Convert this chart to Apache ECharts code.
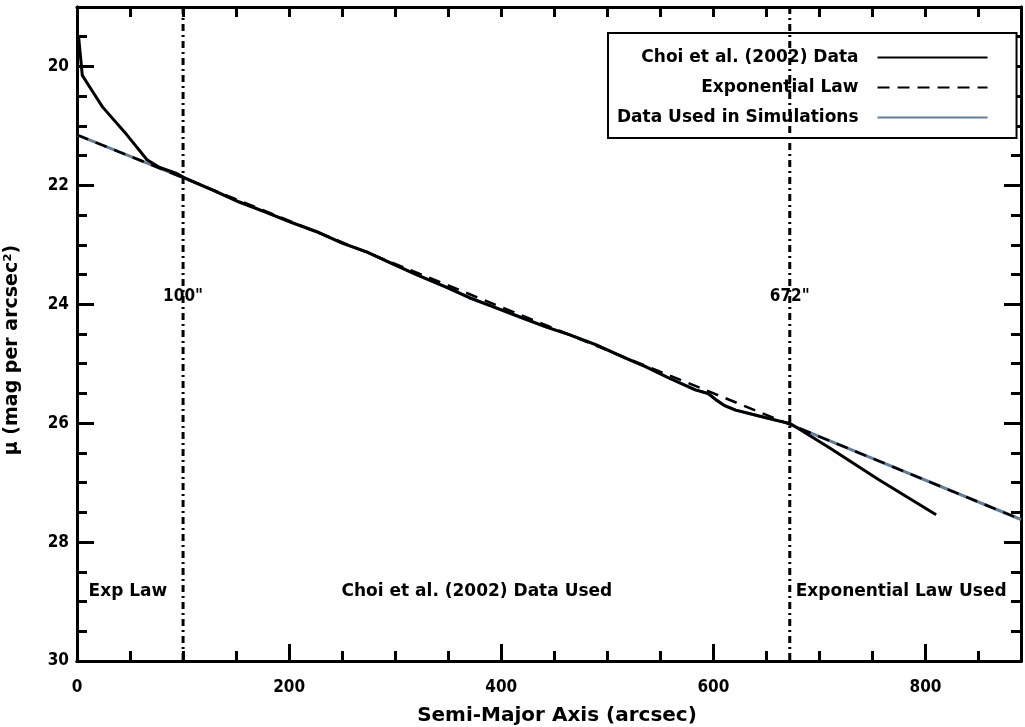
<!DOCTYPE html>
<html>
<head>
<meta charset="utf-8">
<script src="https://cdn.jsdelivr.net/npm/echarts@6/dist/echarts.min.js"></script>
<style>
html,body{margin:0;padding:0;background:#fff;}
#chart{width:1025px;height:727px;}
</style>
</head>
<body>
<div id="chart"></div>
<script>
// ---- data ----
var choiX = [1.5, 5, 15, 24, 47, 66, 78, 94, 101, 128, 153, 179, 200, 226, 250, 273, 295, 320, 348, 370, 392, 417, 442, 464, 489, 514, 536, 558, 583, 595, 602, 610, 621, 643, 668, 672, 709, 756, 810];
var choiY = [19.5, 20.15, 20.43, 20.68, 21.15, 21.57, 21.7, 21.8, 21.87, 22.08, 22.28, 22.46, 22.61, 22.78, 22.97, 23.12, 23.30, 23.50, 23.71, 23.89, 24.04, 24.21, 24.38, 24.51, 24.68, 24.88, 25.05, 25.24, 25.44, 25.50, 25.60, 25.70, 25.78, 25.88, 25.99, 26.0, 26.41, 26.95, 27.54];

var expX = [0, 100, 672, 890];
var expY = [21.15, 21.87, 26.02, 27.62];

var usedX = [0, 100, 128, 153, 179, 200, 226, 250, 273, 295, 320, 348, 370, 392, 417, 442, 464, 489, 514, 536, 558, 583, 595, 602, 610, 621, 643, 668, 672, 890];
var usedY = [21.15, 21.87, 22.08, 22.28, 22.46, 22.61, 22.78, 22.97, 23.12, 23.30, 23.50, 23.71, 23.89, 24.04, 24.21, 24.38, 24.51, 24.68, 24.88, 25.05, 25.24, 25.44, 25.50, 25.60, 25.70, 25.78, 25.88, 25.99, 26.02, 27.62];

var boundaryX = [100, 672];
var boundaryLabels = ['100"', '672"'];
var boundaryLabelY = 23.87;

var regionNames = ['Exp Law', 'Choi et al. (2002) Data Used', 'Exponential Law Used'];
var regionX = [48, 377, 777];
var regionY = 28.83;

var xMajorTicks = [0, 200, 400, 600, 800];
var xMinorTicks = [0, 50, 100, 150, 200, 250, 300, 350, 400, 450, 500, 550, 600, 650, 700, 750, 800, 850];
var yMajorTicks = [20, 22, 24, 26, 28, 30];
var yMinorTicks = [19.5, 20, 20.5, 21, 21.5, 22, 22.5, 23, 23.5, 24, 24.5, 25, 25.5, 26, 26.5, 27, 27.5, 28, 28.5, 29, 29.5];

var seriesNames = ['Choi et al. (2002) Data', 'Exponential Law', 'Data Used in Simulations'];
// ---------------------------------------

function pairs(xs, ys) { return xs.map(function (x, i) { return [x, ys[i]]; }); }

var FONTC = '"DejaVu Sans Condensed", "DejaVu Sans", sans-serif';
var FONT = '"DejaVu Sans", sans-serif';
var XMIN = 0, XMAX = 890, YMIN = 19, YMAX = 30;
var lineW = 3;

function xAx(pos, ticks, len, labels) {
  return {
    type: 'value', position: pos, min: XMIN, max: XMAX,
    axisLine: { show: true, onZero: false, lineStyle: { color: '#000', width: lineW } },
    axisTick: { show: true, inside: true, length: len, customValues: ticks, lineStyle: { color: '#000', width: lineW } },
    axisLabel: labels ? { show: true, customValues: labels, color: '#000', fontFamily: FONTC, fontSize: 17, fontWeight: 'bold', margin: 18 } : { show: false },
    splitLine: { show: false }
  };
}
function yAx(pos, ticks, len, labels) {
  return {
    type: 'value', position: pos, min: YMIN, max: YMAX, inverse: true,
    axisLine: { show: true, onZero: false, lineStyle: { color: '#000', width: lineW } },
    axisTick: { show: true, inside: true, length: len, customValues: ticks, lineStyle: { color: '#000', width: lineW } },
    axisLabel: labels ? { show: true, customValues: labels, color: '#000', fontFamily: FONTC, fontSize: 17, fontWeight: 'bold', margin: 8 } : { show: false },
    splitLine: { show: false }
  };
}

var xAxes = [xAx('bottom', xMajorTicks, 17, xMajorTicks), xAx('bottom', xMinorTicks, 10, null), xAx('top', xMinorTicks, 10, null)];
xAxes[0].name = 'Semi-Major Axis (arcsec)';
xAxes[0].nameLocation = 'middle';
xAxes[0].nameGap = 45;
xAxes[0].nameTextStyle = { color: '#000', fontFamily: FONT, fontSize: 20, fontWeight: 'bold', padding: [0, 0, 0, 16] };

var yAxes = [yAx('left', yMajorTicks, 17, yMajorTicks), yAx('left', yMinorTicks, 10, null), yAx('right', yMajorTicks, 17, null), yAx('right', yMinorTicks, 10, null)];
yAxes[0].name = 'μ (mag per arcsec²)';
yAxes[0].nameLocation = 'middle';
yAxes[0].nameGap = 55;
yAxes[0].nameRotate = 90;
yAxes[0].nameTextStyle = { color: '#000', fontFamily: FONT, fontSize: 19, fontWeight: 'bold', padding: [0, 32, 0, 0] };

var series = [
  {
    name: seriesNames[2], type: 'line', data: pairs(usedX, usedY), symbol: 'none', showSymbol: false,
    lineStyle: { color: '#5f7f9f', width: 3 }, itemStyle: { color: '#5f7f9f' }, z: 2, silent: true, animation: false
  },
  {
    name: seriesNames[1], type: 'line', data: pairs(expX, expY), symbol: 'none', showSymbol: false,
    lineStyle: { color: '#000', width: 2.5, type: [12, 8] }, itemStyle: { color: '#000' }, z: 3, silent: true, animation: false
  },
  {
    name: seriesNames[0], type: 'line', data: pairs(choiX, choiY), symbol: 'none', showSymbol: false,
    lineStyle: { color: '#000', width: 3 }, itemStyle: { color: '#000' }, z: 4, silent: true, animation: false
  }
];
boundaryX.forEach(function (b, i) {
  series.push({
    name: 'boundary' + i, type: 'line', data: [[b, YMIN], [b, YMAX]], symbol: 'none',
    lineStyle: { color: '#000', width: 3, type: [7, 4, 2, 4] }, z: 5, silent: true, animation: false
  });
});
series.push({
  name: 'boundaryLabels', type: 'scatter', symbolSize: 1, silent: true, animation: false, z: 6,
  itemStyle: { opacity: 1, color: 'rgba(0,0,0,0)' },
  data: boundaryX.map(function (b, i) { return { value: [b, boundaryLabelY], name: boundaryLabels[i] }; }),
  label: { show: true, position: 'inside', formatter: '{b}', color: '#000', opacity: 1, fontFamily: FONTC, fontSize: 17, fontWeight: 'bold' }
});
series.push({
  name: 'regionLabels', type: 'scatter', symbolSize: 1, silent: true, animation: false, z: 6,
  itemStyle: { opacity: 1, color: 'rgba(0,0,0,0)' },
  data: regionNames.map(function (n, i) { return { value: [regionX[i], regionY], name: n }; }),
  label: { show: true, position: 'inside', formatter: '{b}', color: '#000', opacity: 1, fontFamily: FONT, fontSize: 17, fontWeight: 'bold' }
});

var chart = echarts.init(document.getElementById('chart'), null, { renderer: 'canvas' });
chart.setOption({
  animation: false,
  backgroundColor: '#fff',
  grid: { left: 77, right: 4, top: 7, bottom: 66, containLabel: false, outerBoundsMode: 'none' },
  xAxis: xAxes,
  yAxis: yAxes,
  legend: {
    data: seriesNames,
    orient: 'vertical',
    left: 608, top: 33,
    align: 'right',
    itemWidth: 110, itemHeight: 14, itemGap: 13,
    padding: [16, 28, 12, 9],
    borderColor: '#000', borderWidth: 2, backgroundColor: '#fff',
    selectedMode: false,
    itemStyle: { opacity: 0 },
    textStyle: { color: '#000', fontFamily: FONT, fontSize: 17, fontWeight: 'bold', padding: [0, 14, 0, 0] }
  },
  series: series
});
</script>
</body>
</html>
